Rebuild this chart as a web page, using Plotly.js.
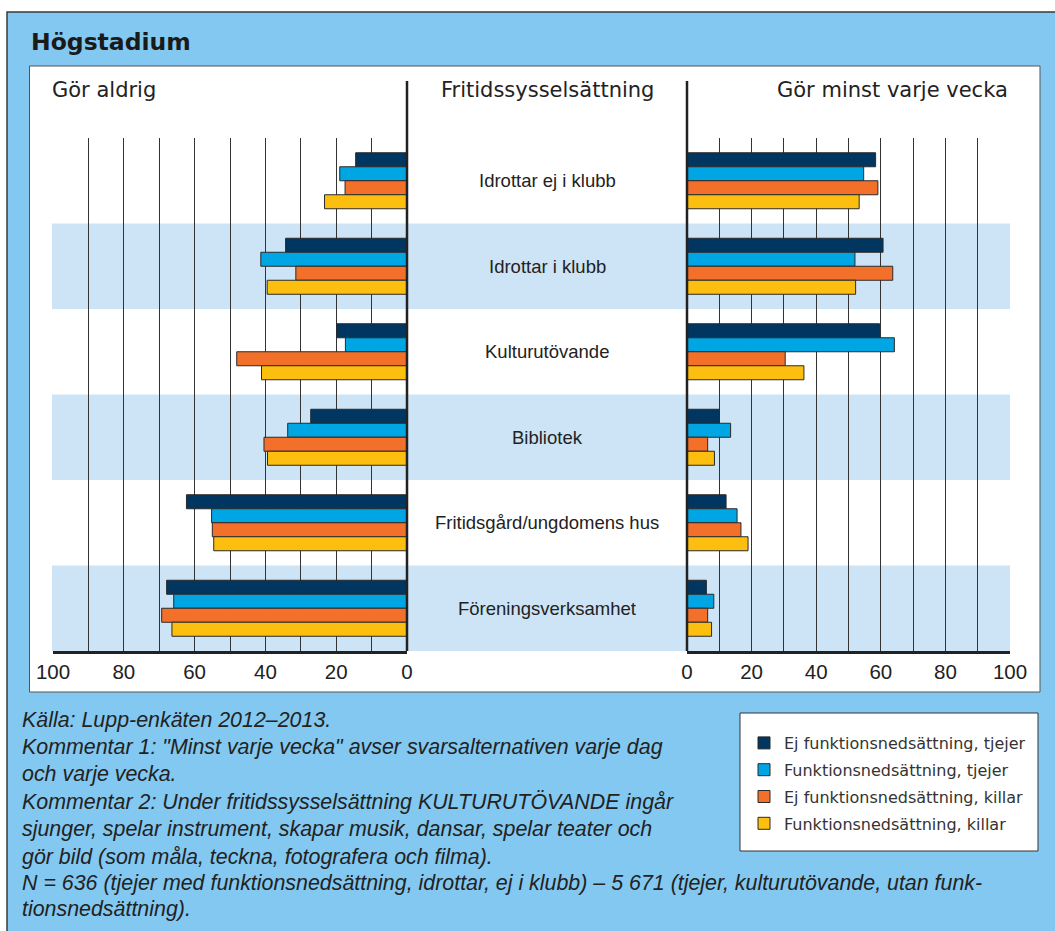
<!DOCTYPE html>
<html>
<head>
<meta charset="utf-8">
<script src="https://cdn.plot.ly/plotly-3.0.1.min.js"></script>
<style>html,body{margin:0;padding:0;background:#fff;}#chart{width:1055px;height:931px;}</style>
</head>
<body>
<div id="chart"></div>
<script>
const categories = ['Idrottar ej i klubb','Idrottar i klubb','Kulturutövande','Bibliotek','Fritidsgård/ungdomens hus','Föreningsverksamhet'];
const seriesNames = ['Ej funktionsnedsättning, tjejer','Funktionsnedsättning, tjejer','Ej funktionsnedsättning, killar','Funktionsnedsättning, killar'];
const seriesColors = ['#00365F','#00A5E3','#F3702B','#FDBF0F'];

// "Gör aldrig" (percent)
const aldrigEjFunkTjejer = [14.5, 34.3, 19.9, 27.2, 62.3, 67.9];
const aldrigFunkTjejer   = [19.0, 41.3, 17.4, 33.7, 55.2, 65.9];
const aldrigEjFunkKillar = [17.5, 31.4, 48.1, 40.4, 55.0, 69.3];
const aldrigFunkKillar   = [23.3, 39.5, 41.1, 39.4, 54.6, 66.4];

// "Gör minst varje vecka" (percent)
const veckaEjFunkTjejer = [58.4, 60.7, 59.6, 10.0, 12.1, 6.0];
const veckaFunkTjejer   = [54.7, 52.0, 64.2, 13.5, 15.5, 8.3];
const veckaEjFunkKillar = [59.1, 63.7, 30.4, 6.4, 16.7, 6.4];
const veckaFunkKillar   = [53.3, 52.2, 36.2, 8.5, 18.9, 7.6];

const tickVals = [0,10,20,30,40,50,60,70,80,90,100];
const tickText = ['0','','20','','40','','60','','80','','100'];

const titleText = 'Högstadium';
const headerLeft = 'Gör aldrig';
const headerMid = 'Fritidssysselsättning';
const headerRight = 'Gör minst varje vecka';
const noteLines = [
  'Källa: Lupp-enkäten 2012–2013.',
  'Kommentar 1: "Minst varje vecka" avser svarsalternativen varje dag',
  'och varje vecka.',
  'Kommentar 2: Under fritidssysselsättning KULTURUTÖVANDE ingår',
  'sjunger, spelar instrument, skapar musik, dansar, spelar teater och',
  'gör bild (som måla, teckna, fotografera och filma).',
  'N = 636 (tjejer med funktionsnedsättning, idrottar, ej i klubb) – 5 671 (tjejer, kulturutövande, utan funk-',
  'tionsnedsättning).'
];

const W = 1055, H = 931;
const px = v => v / W;
const py = v => 1 - v / H;

const aldrig = [aldrigEjFunkTjejer, aldrigFunkTjejer, aldrigEjFunkKillar, aldrigFunkKillar];
const vecka = [veckaEjFunkTjejer, veckaFunkTjejer, veckaEjFunkKillar, veckaFunkKillar];

const traces = [];
aldrig.forEach((vals, i) => {
  traces.push({
    type: 'bar', orientation: 'h', x: vals, y: categories,
    name: seriesNames[i], legendgroup: 'g' + i, showlegend: true,
    marker: {color: seriesColors[i], line: {color: '#2a2a2a', width: 1}},
    xaxis: 'x', yaxis: 'y', hoverinfo: 'x+name'
  });
});
vecka.forEach((vals, i) => {
  traces.push({
    type: 'bar', orientation: 'h', x: vals, y: categories,
    name: seriesNames[i], legendgroup: 'g' + i, showlegend: false,
    marker: {color: seriesColors[i], line: {color: '#2a2a2a', width: 1}},
    xaxis: 'x2', yaxis: 'y', hoverinfo: 'x+name'
  });
});

const shapes = [
  // outer blue panel
  {type:'rect', xref:'paper', yref:'paper', x0:px(7), x1:px(1070), y0:py(12), y1:py(945),
   fillcolor:'#83C8F0', line:{color:'#3a3a3a', width:1.5}, layer:'below'},
  // inner white panel
  {type:'rect', xref:'paper', yref:'paper', x0:px(29.5), x1:px(1040), y0:py(66), y1:py(692),
   fillcolor:'#ffffff', line:{color:'#555', width:1}, layer:'below'},
  // legend box
  {type:'rect', xref:'paper', yref:'paper', x0:px(740), x1:px(1038), y0:py(713), y1:py(851),
   fillcolor:'#ffffff', line:{color:'#333', width:1}, layer:'below'}
];
// alternating light blue bands
categories.forEach((c, i) => {
  if (i % 2 === 1) {
    shapes.push({type:'rect', xref:'paper', yref:'y', x0:px(52), x1:px(1010), y0:i-0.5, y1:i+0.5,
      fillcolor:'#CDE4F6', line:{width:0}, layer:'below'});
  }
});
// zero lines
shapes.push({type:'line', xref:'paper', yref:'paper', x0:px(407), x1:px(407), y0:py(81), y1:py(651),
  line:{color:'#222', width:2.5}});
shapes.push({type:'line', xref:'paper', yref:'paper', x0:px(687), x1:px(687), y0:py(81), y1:py(651),
  line:{color:'#222', width:2.5}});

const annotations = [
  {text: titleText, xref:'paper', yref:'paper', x:px(29), y:py(42), xanchor:'left', yanchor:'middle',
   showarrow:false, font:{family:'DejaVu Sans', size:23.5, color:'#1a1a1a', weight:'bold'}},
  {text: headerLeft, xref:'paper', yref:'paper', x:px(50), y:py(90), xanchor:'left', yanchor:'middle',
   showarrow:false, font:{family:'DejaVu Sans', size:21, color:'#222'}},
  {text: headerMid, xref:'paper', yref:'paper', x:px(547), y:py(90), xanchor:'center', yanchor:'middle',
   showarrow:false, font:{family:'DejaVu Sans', size:21, color:'#222'}},
  {text: headerRight, xref:'paper', yref:'paper', x:px(1010), y:py(90), xanchor:'right', yanchor:'middle',
   showarrow:false, font:{family:'DejaVu Sans', size:21, color:'#222'}}
];
categories.forEach(c => {
  annotations.push({text: c, xref:'paper', yref:'y', x:px(547), y:c, xanchor:'center', yanchor:'middle',
    showarrow:false, font:{family:'Liberation Sans', size:18.5, color:'#222'}});
});
const noteY = [720, 747, 774, 802, 829, 857, 883, 909];
noteLines.forEach((t, i) => {
  annotations.push({text: t, xref:'paper', yref:'paper', x:px(20), y:py(noteY[i]), xanchor:'left', yanchor:'middle',
    showarrow:false, font:{family:'Liberation Sans', size:21.4, color:'#222', style:'italic'}});
});

const axisCommon = {
  tickvals: tickVals, ticktext: tickText, showgrid: true, gridcolor: '#333', gridwidth: 1,
  zeroline: false, showline: true, linecolor: '#222', linewidth: 3, ticks: '',
  tickfont: {family:'Liberation Sans', size:20.5, color:'#222'}, fixedrange: true
};

const layout = {
  width: W, height: H,
  margin: {l:0, r:0, t:0, b:0},
  paper_bgcolor: '#ffffff', plot_bgcolor: 'rgba(0,0,0,0)',
  barmode: 'group', bargap: 0.345, bargroupgap: 0,
  xaxis: Object.assign({}, axisCommon, {domain:[px(53), px(407)], range:[100, 0], anchor:'y'}),
  xaxis2: Object.assign({}, axisCommon, {domain:[px(687), px(1010)], range:[0, 100], anchor:'y'}),
  yaxis: {type:'category', categoryorder:'array', categoryarray: categories, autorange:'reversed',
    domain:[py(651), py(138)], showticklabels:false, showgrid:false, zeroline:false, showline:false,
    ticks:'', anchor:'x', fixedrange:true},
  showlegend: true,
  legend: {x: px(744), y: py(726), xanchor:'left', yanchor:'top', bgcolor:'rgba(0,0,0,0)', borderwidth:0,
    font:{family:'DejaVu Sans', size:16, color:'#333'}, tracegroupgap: 3, traceorder:'grouped'},
  shapes: shapes,
  annotations: annotations
};

Plotly.newPlot('chart', traces, layout, {displayModeBar:false, staticPlot:true});
</script>
</body>
</html>
